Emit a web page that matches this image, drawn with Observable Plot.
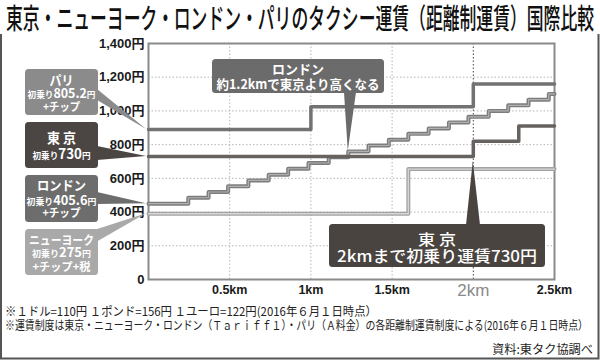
<!DOCTYPE html>
<html><head><meta charset="utf-8">
<script src="https://cdn.jsdelivr.net/npm/d3@7"></script>
<script src="https://cdn.jsdelivr.net/npm/@observablehq/plot@0.6"></script>
<style>
body{margin:0;background:#fff;font-family:"Noto Sans CJK JP",sans-serif;}
#wrap{width:600px;height:360px;position:relative;overflow:hidden;background:#fff;}
#title{display:block;}
#chart svg{display:block;}
</style></head><body>
<div id="wrap">
<svg id="title" width="600" height="34"><text x="300" y="29" text-anchor="middle" font-size="28" font-weight="500" fill="#111" textLength="588" lengthAdjust="spacingAndGlyphs" font-family="Noto Sans CJK JP">東京・ニューヨーク・ロンドン・パリのタクシー運賃（距離制運賃）国際比較</text></svg>
<div id="chart"></div>
</div>
<script>
// ---- data (distance km -> fare yen, step-after) ----
const parisKm   = [0, 1.0, 2.0, 2.5];
const parisFare = [890, 1025, 1160, 1160];
const tokyoKm   = [0, 2.0, 2.28, 2.5];
const tokyoFare = [730, 820, 910, 910];
const londonKm   = [0, 0.245, 0.37, 0.49, 0.615, 0.74, 0.86, 0.985, 1.11, 1.23, 1.355, 1.48, 1.6, 1.725, 1.85, 1.97, 2.095, 2.215, 2.34, 2.465, 2.5];
const londonFare = [450, 485, 519, 553, 588, 622, 657, 691, 725, 760, 795, 829, 864, 896, 932, 965, 1000, 1033, 1067, 1101, 1101];
const nyKm   = [0, 1.6, 2.5];
const nyFare = [390, 655, 655];

const yTicks = [0, 200, 400, 600, 800, 1000, 1200, 1400];
const xTicks = [0.5, 1, 1.5, 2.5];
const xTickHighlight = [2];
const gridY = [200, 400, 600, 800, 1000, 1200];
const gridX = [0.5, 1, 1.5];

const toRows = (km, fare) => km.map((k, i) => ({km: k, fare: fare[i]}));
const paris = toRows(parisKm, parisFare);
const tokyo = toRows(tokyoKm, tokyoFare);
const london = toRows(londonKm, londonFare);
const ny = toRows(nyKm, nyFare);

const axisFont = '"Liberation Sans","Noto Sans CJK JP",sans-serif';

const plot = Plot.plot({
  width: 600, height: 326,
  marginLeft: 148, marginRight: 46, marginTop: 9, marginBottom: 81,
  style: {fontFamily: axisFont, background: "#fff", overflow: "visible"},
  x: {domain: [0, 2.5], label: null},
  y: {domain: [0, 1400], label: null},
  marks: [
    Plot.ruleY(gridY, {stroke: "#b5b5b5", strokeWidth: 1, strokeDasharray: "1.5,2"}),
    Plot.ruleX(gridX, {stroke: "#b5b5b5", strokeWidth: 1, strokeDasharray: "1.5,2"}),
    Plot.ruleX(xTickHighlight, {stroke: "#444", strokeWidth: 1, strokeDasharray: "1.5,2"}),
    Plot.frame({stroke: "#8a8a8a", strokeWidth: 2}),
    Plot.line(ny, {x: "km", y: "fare", curve: "step-after", stroke: "#a3a3a3", strokeWidth: 4}),
    Plot.line(ny, {x: "km", y: "fare", curve: "step-after", stroke: "#d6d6d6", strokeWidth: 1.3}),
    Plot.line(london, {x: "km", y: "fare", curve: "step-after", stroke: "#7c7c7c", strokeWidth: 4}),
    Plot.line(london, {x: "km", y: "fare", curve: "step-after", stroke: "#b0b0b0", strokeWidth: 1.2}),
    Plot.line(paris, {x: "km", y: "fare", curve: "step-after", stroke: "#727272", strokeWidth: 3.5}),
    Plot.line(tokyo, {x: "km", y: "fare", curve: "step-after", stroke: "#656260", strokeWidth: 3.5}),
    Plot.axisY(yTicks, {tickSize: 0, tickPadding: 4, fontSize: 13, fontWeight: "bold", fill: "#1a1a1a", label: null,
      tickFormat: d => d === 0 ? "0" : d3.format(",")(d) + "円"}),
    Plot.axisX(xTicks, {tickSize: 0, tickPadding: 6, fontSize: 12.5, fontWeight: "bold", fill: "#1a1a1a", label: null,
      tickFormat: d => d + "km"}),
    Plot.axisX(xTickHighlight, {tickSize: 0, tickPadding: 4, fontSize: 17, fontWeight: "normal", fill: "#8a8a8a", label: null,
      tickFormat: d => d + "km"})
  ]
});
document.getElementById("chart").appendChild(plot);

// ---- annotations ----
const X = v => plot.scale("x").apply(v);
const Y = v => plot.scale("y").apply(v);
const svg = d3.select(plot);
const g = svg.append("g").attr("font-family", '"Noto Sans CJK JP",sans-serif');

function box(x0, y0, x1, y1, fill) {
  g.append("rect").attr("x", x0).attr("y", y0).attr("width", x1 - x0).attr("height", y1 - y0).attr("rx", 3.5).attr("fill", fill);
}
function wedge(pts, fill) {
  g.append("path").attr("d", "M" + pts.map(p => p.join(",")).join("L") + "Z").attr("fill", fill);
}
function txt(x, y, parts, fill, opts = {}) {
  const t = g.append("text").attr("x", x).attr("y", y).attr("text-anchor", opts.anchor || "middle").attr("fill", fill);
  if (opts.len) t.attr("textLength", opts.len).attr("lengthAdjust", "spacingAndGlyphs");
  parts.forEach(([s, size, weight]) => t.append("tspan").attr("font-size", size).attr("font-weight", weight || "bold").text(s));
  return t;
}

// left labels
const tipX = X(0) - 2;
const cx = 61.5;
// Paris
wedge([[97, 55], [97, 66], [tipX, Y(parisFare[0])]], "#8b8b8b");
box(25, 35, 98, 81, "#8b8b8b");
txt(cx, 51, [["パリ", 13]], "#fff", {len: 24});
txt(cx, 64, [["初乗り", 9], ["805.2", 13], ["円", 9]], "#fff", {len: 68});
txt(cx, 76.5, [["+チップ", 11]], "#fff", {len: 37});
// Tokyo
wedge([[97, 112], [97, 126], [tipX, Y(tokyoFare[0])]], "#4b4643");
box(25, 88, 98, 134, "#4b4643");
txt(cx, 109, [["東 京", 13.5]], "#fff", {len: 29});
txt(cx, 125, [["初乗り", 9], ["730", 14], ["円", 9]], "#fff", {len: 58});
// London
wedge([[97, 158], [97, 170], [tipX, Y(londonFare[0])]], "#6d6d6d");
box(25, 141, 98, 188, "#6d6d6d");
txt(cx, 155.5, [["ロンドン", 13]], "#fff", {len: 49});
txt(cx, 171, [["初乗り", 9], ["405.6", 13], ["円", 9]], "#fff", {len: 70});
txt(cx, 183, [["+チップ", 11]], "#fff", {len: 38});
// New York
wedge([[94, 196], [96, 208], [tipX, Y(nyFare[0])]], "#a9a9a9");
box(25, 195, 98, 241, "#a9a9a9");
txt(cx, 210.5, [["ニューヨーク", 12.5]], "#fff", {len: 65});
txt(cx, 222.5, [["初乗り", 9], ["275", 13], ["円", 9]], "#fff", {len: 59});
txt(cx, 237, [["+チップ+税", 11]], "#fff", {len: 58});

// London callout
wedge([[344, 58], [356, 58], [X(1.23), Y(760)]], "#6b6b6b");
box(212, 25, 384, 59, "#6b6b6b");
txt(298, 40, [["ロンドン", 13]], "#fff", {len: 52});
txt(298, 55, [["約1.2kmで東京より高くなる", 13]], "#fff", {len: 163});

// Tokyo callout
wedge([[466, 191], [480, 191], [X(2), Y(700)]], "#4a4440");
box(329, 190, 545, 233, "#4a4440");
txt(437, 210.5, [["東 京", 15, "500"]], "#fff", {len: 38});
txt(437, 228, [["2kmまで初乗り運賃730円", 16, "500"]], "#fff", {len: 200});

// footnotes
const fn = svg.append("g").attr("font-family", '"Noto Sans CJK JP",sans-serif').attr("fill", "#222").attr("font-size", 12).attr("text-anchor", "start");
fn.append("text").attr("x", 5).attr("y", 282).attr("textLength", 372).attr("lengthAdjust", "spacingAndGlyphs")
  .text("※１ドル=110円 １ポンド=156円 １ユーロ=122円(2016年６月１日時点）");
fn.append("text").attr("x", 5).attr("y", 296).attr("textLength", 583).attr("lengthAdjust", "spacingAndGlyphs")
  .text("※運賃制度は東京・ニューヨーク・ロンドン（Ｔａｒｉｆｆ１）・パリ（Ａ料金）の各距離制運賃制度による(2016年６月１日時点）");
fn.append("text").attr("x", 593).attr("y", 320).attr("text-anchor", "end").attr("textLength", 101).attr("lengthAdjust", "spacingAndGlyphs")
  .text("資料:東タク協調べ");

// outer border (no top edge)
svg.append("path").attr("d", "M1,0V324.5H598.5V0").attr("fill", "none").attr("stroke", "#555").attr("stroke-width", 2);
</script>
</body></html>
